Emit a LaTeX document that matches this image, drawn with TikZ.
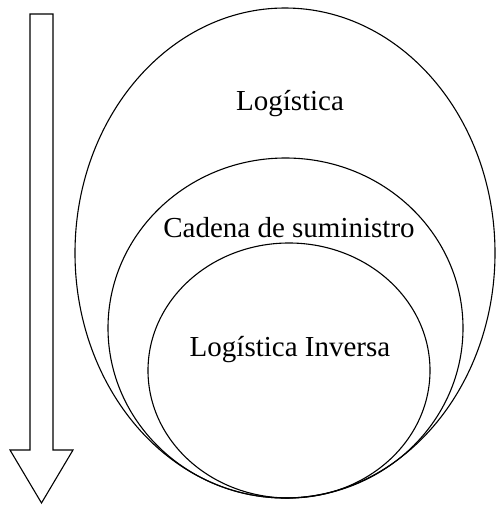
\documentclass[tikz,border=0pt]{standalone}
\usepackage{fontspec}
\setmainfont{Liberation Serif}
\usetikzlibrary{positioning}

\tikzset{rim/.style={line width=1.1pt},
    lbl/.style={font=\fontsize{29}{34}\selectfont, inner sep=0pt}}

\begin{document}
\begin{tikzpicture}[x=1pt, y=-1pt]
\useasboundingbox (0,0) rectangle (496,506);

% flecha hueca
\draw[rim, line join=miter] (30,14) -- (53,14) -- (53,450) -- (73,450) -- (41.5,503) -- (10,450) -- (30,450) -- cycle;

% elipses
\draw[rim] (285,253) ellipse (210 and 245);
\draw[rim] (285.5,328) ellipse (177.5 and 170);
\draw[rim] (289,370.5) ellipse (141 and 127.5);

\node[lbl] (log) at (290,104) {Logística};
\node[lbl] (cad) at (289,228) {Cadena de suministro};
\node[lbl] (inv) at (290,350) {Logística Inversa};
\end{tikzpicture}
\end{document}
